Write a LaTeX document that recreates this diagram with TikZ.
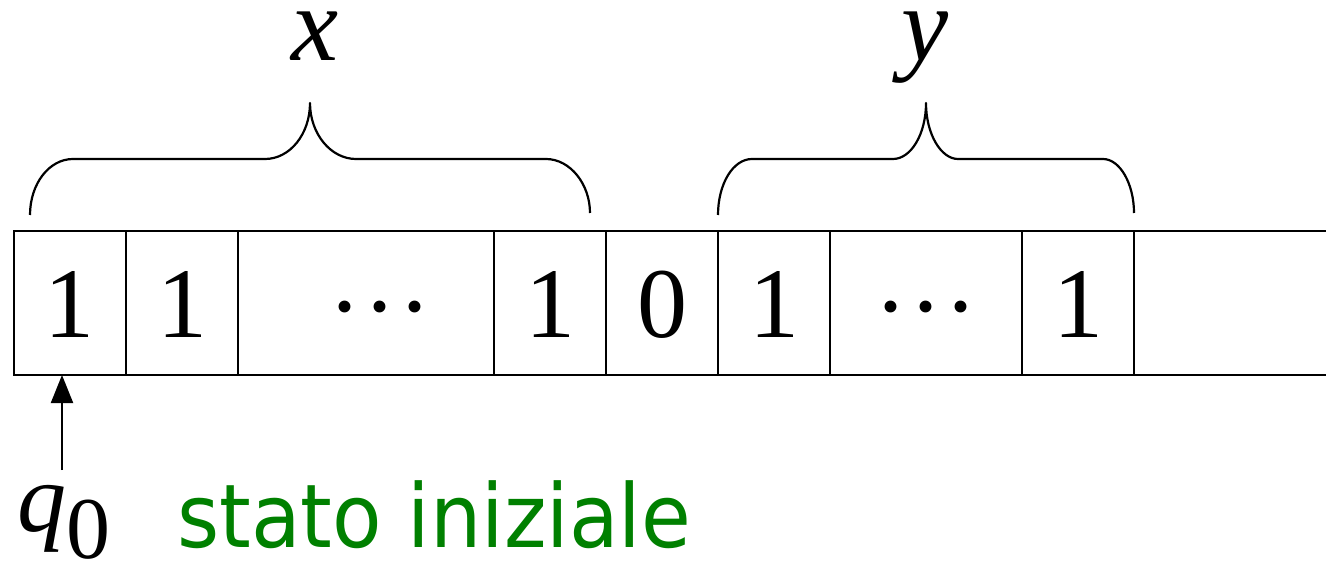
\documentclass[tikz,border=0pt]{standalone}
\usepackage{fontspec}
\setmainfont{Liberation Serif}
\newfontfamily\tapefont{Liberation Serif}
\newfontfamily\greenfont{DejaVu Sans}
\usetikzlibrary{arrows.meta}
\definecolor{labelgreen}{RGB}{0,128,0}
\newcommand{\onedot}{\makebox[35pt][c]{\raisebox{25pt}{.}}}
\newcommand{\mydots}{\onedot\onedot\onedot}
\begin{document}
\begin{tikzpicture}[x=1pt,y=-1pt,
  cell/.style={draw, line width=1.6pt, minimum height=144pt, inner sep=0pt, outer sep=0pt,
    font=\tapefont\fontsize{100}{100}\selectfont, text height=68pt, text depth=0pt},
  tapeline/.style={line width=2.2pt},
  bracepath/.style={line width=2.2pt, line join=round},
  setlabel/.style={inner sep=0pt, anchor=base, font=\tapefont\fontsize{106}{106}\selectfont\itshape, text height=48pt},
  headarrow/.style={line width=2pt, -{Triangle[width=22pt,length=28pt]}},
  greenlabel/.style={inner sep=0pt, anchor=base west, text=labelgreen, font=\greenfont\fontsize{88}{88}\selectfont}
]
\useasboundingbox (0,0) rectangle (1326,564);
% tape cells
\node[cell, minimum width=112pt] (c1) at (70,303) {1};
\node[cell, minimum width=112pt] (c2) at (182,303) {1};
\node[cell, minimum width=256pt] (c3) at (366,303) {\hspace*{28pt}\mydots};
\node[cell, minimum width=112pt] (c4) at (550,303) {1};
\node[cell, minimum width=112pt] (c5) at (662,303) {0};
\node[cell, minimum width=112pt] (c6) at (774,303) {1};
\node[cell, minimum width=192pt] (c7) at (926,303) {\mydots};
\node[cell, minimum width=112pt] (c8) at (1078,303) {1};
\coordinate (tapeendtop) at (1326,231);
\coordinate (tapeendbot) at (1326,375);
\draw[tapeline] (c1.north west) -- (tapeendtop);
\draw[tapeline] (c1.south west) -- (tapeendbot);
% braces
\coordinate (xl) at (30,215);
\coordinate (xtip) at (310,103);
\coordinate (xr) at (590,213);
\draw[bracepath] (xl) .. controls (30,184) and (49,159) .. (73,159) -- (265,159)
  .. controls (290,159) and (310,134) .. (xtip)
  .. controls (310,134) and (331,159) .. (356,159) -- (546,159)
  .. controls (570,159) and (590,184) .. (xr);
\coordinate (yl) at (718,215);
\coordinate (ytip) at (926,103);
\coordinate (yr) at (1134,213);
\draw[bracepath] (yl) .. controls (718,184) and (733,159) .. (752,159) -- (893,159)
  .. controls (911,159) and (926,134) .. (ytip)
  .. controls (926,134) and (941,159) .. (958,159) -- (1103,159)
  .. controls (1120,159) and (1134,184) .. (yr);
\node[setlabel, text depth=0pt] (xlab) at (315,61) {x};
\node[setlabel, text depth=22pt] (ylab) at (925,61) {y};
% head
\node[inner sep=0pt, anchor=base west, font=\tapefont\fontsize{98}{98}\selectfont, text height=44pt, text depth=28pt] (q0) at (17,531)
  {\textit{q}\raisebox{-27pt}{\fontsize{88}{88}\selectfont 0}};
\coordinate (tail) at (62,470);
\coordinate (head) at (62,375);
\draw[headarrow] (tail) -- (head);
\node[greenlabel] (start) at (177,547) {\scalebox{0.92}[1]{stato iniziale}};
\end{tikzpicture}
\end{document}
